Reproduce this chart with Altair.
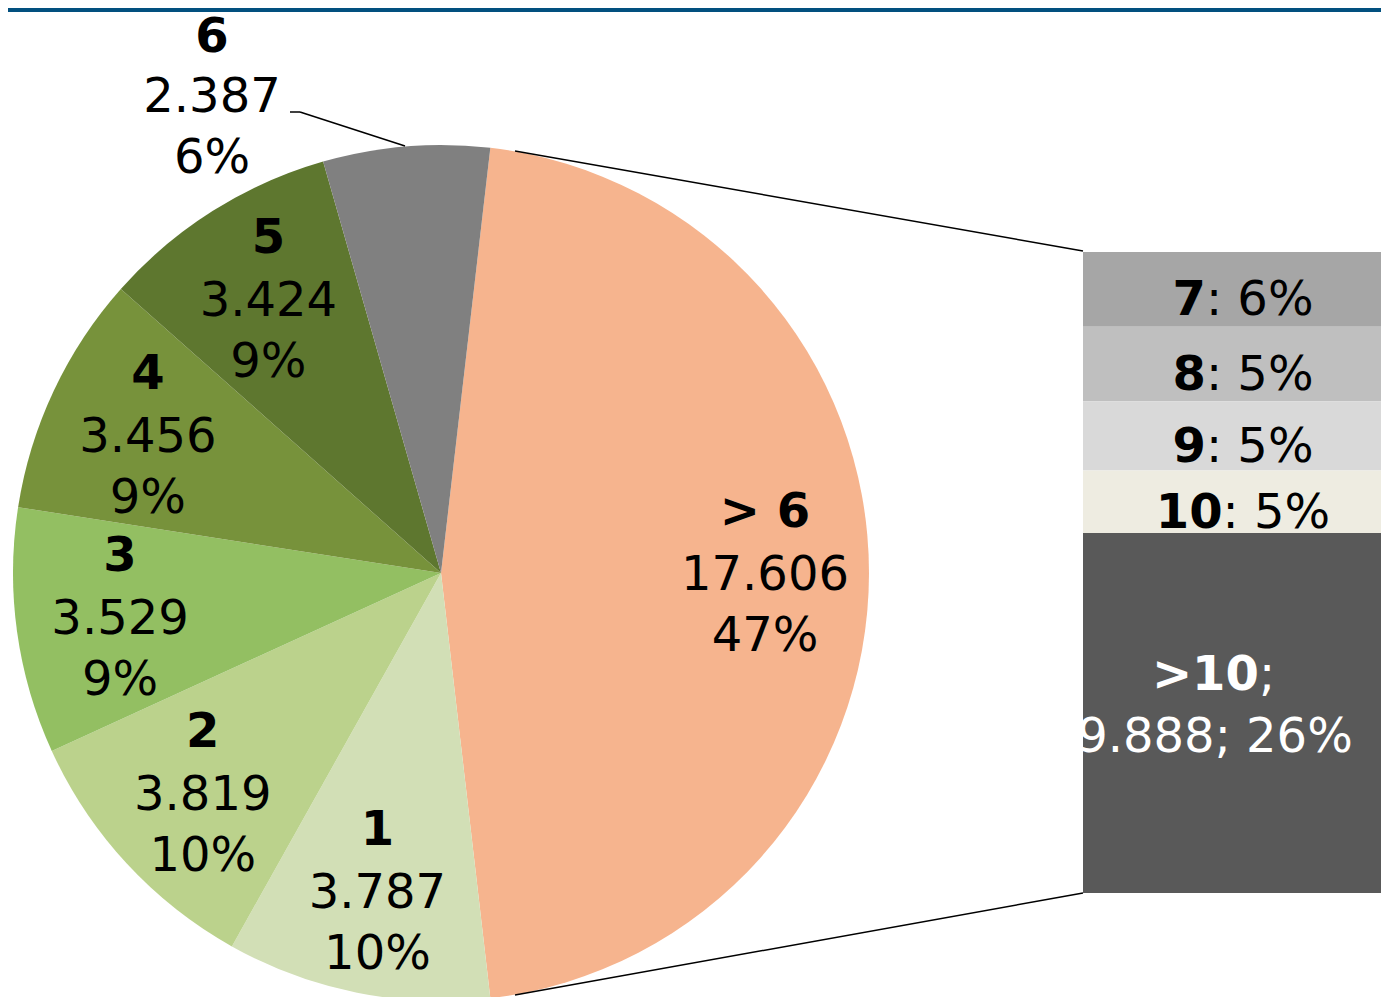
import math
import altair as alt
import pandas as pd

# ---- data ----
pie_names = ["> 6", "1", "2", "3", "4", "5", "6"]
pie_values = [17.606, 3.787, 3.819, 3.529, 3.456, 3.424, 2.387]
pie_value_labels = ["17.606", "3.787", "3.819", "3.529", "3.456", "3.424", "2.387"]
pie_pct_labels = ["47%", "10%", "10%", "9%", "9%", "9%", "6%"]
pie_colors = ["#F6B48E", "#D2DFB6", "#BBD28C", "#93BF62", "#77923B", "#5E772F", "#808080"]

bar_names = ["7", "8", "9", "10", ">10"]
bar_values = [2.05, 2.05, 1.90, 1.72, 9.888]
bar_value_labels = ["", "", "", "", "9.888"]
bar_pct_labels = ["6%", "5%", "5%", "5%", "26%"]
bar_colors = ["#A6A6A6", "#BFBFBF", "#D9D9D9", "#EEECE1", "#595959"]

FONT = "DejaVu Sans"
FS = 48

total = sum(pie_values)
start = math.pi / 2 - math.pi * pie_values[0] / total
theta_scale = alt.Scale(range=[start, start + 2 * math.pi])

CX, CY, R = 433, 565, 428
LR = 324

pie_df = pd.DataFrame({
    "name": pie_names,
    "value": pie_values,
    "idx": list(range(len(pie_names))),
    "color": pie_colors,
    "vlab": pie_value_labels,
    "plab": pie_pct_labels,
})

# bar table
cum = 0.0
y0s, y1s, mids = [], [], []
for v in bar_values:
    y0s.append(cum)
    y1s.append(cum + v)
    mids.append(cum + v / 2)
    cum += v
BAR_CENTER = 1235
rest_w = (0.337 + 0.318 + 0.636 + 0.95) * FS
jx = []
for n in bar_names:
    bold_w = sum((0.838 if c == ">" else 0.696) for c in n) * FS
    if n == ">10":
        jx.append(1207 + (bold_w - 0.4 * FS) / 2)
    else:
        jx.append(BAR_CENTER + (bold_w - rest_w) / 2)
bar_df = pd.DataFrame({
    "name": bar_names,
    "value": bar_values,
    "y0": y0s,
    "y1": y1s,
    "mid": mids,
    "color": bar_colors,
    "jx": jx,
    "rest": [": " + p for p in bar_pct_labels[:4]] + [";"],
    "line2": [f"{v}; {p}" if v else "" for v, p in zip(bar_value_labels, bar_pct_labels)],
})

ybar = alt.Scale(domain=[0, sum(bar_values)], range=[244, 885], nice=False, zero=False)

base_pie = alt.Chart(pie_df)
arc = base_pie.mark_arc(radius=R).encode(
    theta=alt.Theta("value:Q", stack=True, scale=theta_scale),
    color=alt.Color("color:N", scale=None),
    order=alt.Order("idx:Q"),
    x=alt.value(CX), y=alt.value(CY),
)

def pie_text(field, weight, dy):
    return base_pie.transform_filter("datum.name != '6'").mark_text(
        radius=LR, font=FONT, fontSize=FS, fontWeight=weight, dy=dy,
        baseline="alphabetic", align="center", color="black",
    ).encode(
        theta=alt.Theta("value:Q", stack=True, scale=theta_scale),
        order=alt.Order("idx:Q"),
        text=alt.Text(field),
        x=alt.value(CX), y=alt.value(CY),
    )

t_name = pie_text("name:N", "bold", -46)
t_val = pie_text("vlab:N", "normal", 17)
t_pct = pie_text("plab:N", "normal", 78)

six = base_pie.transform_filter("datum.name == '6'")
def six_text(field, weight, y):
    return six.mark_text(font=FONT, fontSize=FS, fontWeight=weight, baseline="alphabetic",
                         align="center", color="black").encode(
        text=alt.Text(field), x=alt.value(204), y=alt.value(y))
s_name = six_text("name:N", "bold", 44)
s_val = six_text("vlab:N", "normal", 104)
s_pct = six_text("plab:N", "normal", 165)

lead1 = six.mark_rule(color="black", strokeWidth=1.5).encode(
    x=alt.value(282), x2=alt.value(292), y=alt.value(104), y2=alt.value(104))
lead2 = six.mark_rule(color="black", strokeWidth=1.5).encode(
    x=alt.value(292), x2=alt.value(397), y=alt.value(104), y2=alt.value(138))

conn1 = six.mark_rule(color="black", strokeWidth=1.5).encode(
    x=alt.value(507), x2=alt.value(1075), y=alt.value(143), y2=alt.value(243))
conn2 = six.mark_rule(color="black", strokeWidth=1.5).encode(
    x=alt.value(507), x2=alt.value(1075), y=alt.value(987), y2=alt.value(885))

band = six.mark_rect(color="#02507F").encode(
    x=alt.value(0), x2=alt.value(1373), y=alt.value(0), y2=alt.value(4))

base_bar = alt.Chart(bar_df)
bar = base_bar.mark_bar().encode(
    y=alt.Y("y0:Q", scale=ybar, axis=None),
    y2="y1",
    x=alt.value(1075), x2=alt.value(1395),
    color=alt.Color("color:N", scale=None),
)
small = base_bar.transform_filter("datum.name != '>10'")
b_name = small.mark_text(font=FONT, fontSize=FS, fontWeight="bold", align="right",
                         baseline="alphabetic", dy=26, color="black").encode(
    x=alt.X("jx:Q", scale=None), y=alt.Y("mid:Q", scale=ybar, axis=None), text="name:N")
b_rest = small.mark_text(font=FONT, fontSize=FS, fontWeight="normal", align="left",
                         baseline="alphabetic", dy=26, color="black").encode(
    x=alt.X("jx:Q", scale=None), y=alt.Y("mid:Q", scale=ybar, axis=None), text="rest:N")
big = base_bar.transform_filter("datum.name == '>10'")
g_name = big.mark_text(font=FONT, fontSize=FS, fontWeight="bold", align="right",
                       baseline="alphabetic", dy=-23, color="white").encode(
    x=alt.X("jx:Q", scale=None), y=alt.Y("mid:Q", scale=ybar, axis=None), text="name:N")
g_rest = big.mark_text(font=FONT, fontSize=FS, fontWeight="normal", align="left",
                       baseline="alphabetic", dy=-23, color="white").encode(
    x=alt.X("jx:Q", scale=None), y=alt.Y("mid:Q", scale=ybar, axis=None), text="rest:N")
g_line2 = big.mark_text(font=FONT, fontSize=FS, fontWeight="normal", align="center",
                        baseline="alphabetic", dy=39, color="white").encode(
    x=alt.value(1207), y=alt.Y("mid:Q", scale=ybar, axis=None), text="line2:N")

chart = alt.layer(
    arc, t_name, t_val, t_pct, s_name, s_val, s_pct, lead1, lead2,
    conn1, conn2, bar, b_name, b_rest, g_name, g_rest, g_line2, band,
).properties(
    width=1373, height=989, padding=0,
    autosize=alt.AutoSizeParams(type="none"),
).configure_view(stroke=None)

chart.save("out.html", embed_options={"renderer": "svg", "actions": False})
